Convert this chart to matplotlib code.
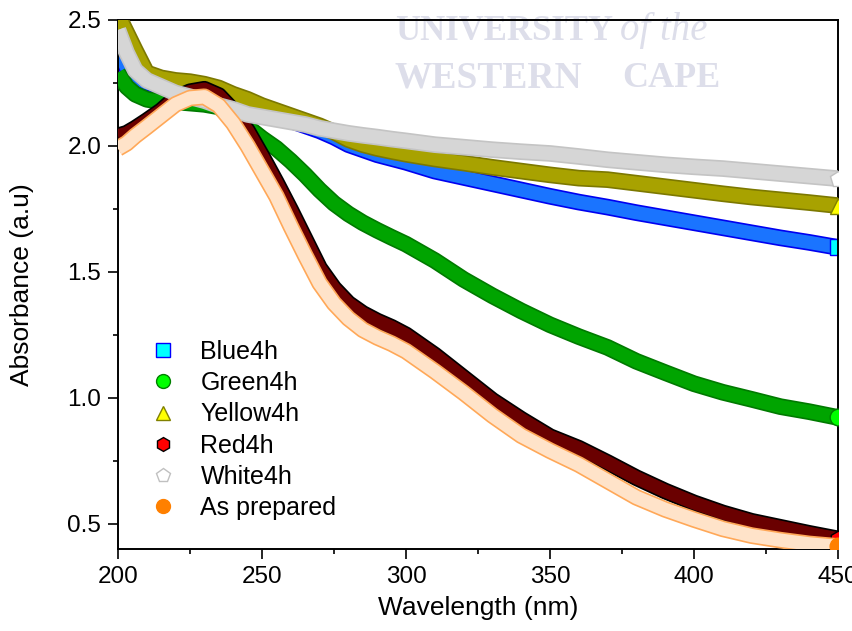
import numpy as np
import matplotlib
matplotlib.use("Agg")
import matplotlib.pyplot as plt
import matplotlib.patheffects as pe
from matplotlib.lines import Line2D

plt.rcParams['font.family'] = ['Liberation Sans', 'DejaVu Sans']

wavelength = [200, 203, 206, 210, 215, 220, 225, 230, 235, 240, 245, 250, 255, 260,
              265, 270, 275, 280, 285, 290, 295, 300, 310, 320, 330, 340, 350, 360, 370, 380,
              390, 400, 410, 420, 430, 440, 450]

blue4h = [2.38, 2.31, 2.27, 2.25, 2.24, 2.235, 2.23, 2.22, 2.20, 2.185, 2.165, 2.14, 2.12, 2.10,
          2.08, 2.06, 2.035, 2.005, 1.985, 1.965, 1.95, 1.935, 1.90, 1.875, 1.85, 1.825, 1.80, 1.777,
          1.757, 1.735, 1.715, 1.695, 1.675, 1.655, 1.635, 1.617, 1.597]
green4h = [2.29, 2.235, 2.205, 2.185, 2.175, 2.175, 2.17, 2.165, 2.155, 2.11, 2.075, 2.03, 1.99, 1.94,
           1.885, 1.825, 1.772, 1.73, 1.695, 1.665, 1.637, 1.61, 1.545, 1.47, 1.405, 1.345, 1.29, 1.243,
           1.20, 1.145, 1.10, 1.056, 1.022, 0.994, 0.965, 0.945, 0.922]
yellow4h = [2.52, 2.45, 2.38, 2.29, 2.27, 2.26, 2.255, 2.245, 2.23, 2.205, 2.185, 2.16, 2.14, 2.12,
            2.10, 2.08, 2.055, 2.025, 2.005, 1.99, 1.978, 1.967, 1.948, 1.932, 1.915, 1.90, 1.885, 1.872,
            1.866, 1.852, 1.838, 1.824, 1.81, 1.797, 1.786, 1.775, 1.763]
red4h = [2.04, 2.05, 2.07, 2.10, 2.14, 2.19, 2.215, 2.225, 2.20, 2.14, 2.06, 1.96, 1.855, 1.745,
         1.63, 1.515, 1.435, 1.375, 1.335, 1.305, 1.28, 1.25, 1.17, 1.08, 0.99, 0.915, 0.846, 0.80,
         0.743, 0.683, 0.63, 0.583, 0.543, 0.51, 0.486, 0.462, 0.44]
white4h = [2.46, 2.37, 2.30, 2.26, 2.235, 2.21, 2.195, 2.18, 2.16, 2.145, 2.125, 2.115, 2.105, 2.095,
           2.085, 2.07, 2.06, 2.05, 2.042, 2.035, 2.027, 2.02, 2.005, 1.995, 1.985, 1.977, 1.97, 1.958,
           1.945, 1.935, 1.925, 1.917, 1.91, 1.90, 1.89, 1.88, 1.87]
as_prepared = [1.99, 2.01, 2.04, 2.075, 2.12, 2.165, 2.19, 2.195, 2.16, 2.09, 2.00, 1.90, 1.80, 1.68,
               1.565, 1.455, 1.375, 1.315, 1.27, 1.24, 1.215, 1.185, 1.105, 1.02, 0.93, 0.85, 0.79, 0.735,
               0.67, 0.605, 0.557, 0.517, 0.48, 0.453, 0.435, 0.42, 0.41]

labels = ['Blue4h', 'Green4h', 'Yellow4h', 'Red4h', 'White4h', 'As prepared']
series = [blue4h, green4h, yellow4h, red4h, white4h, as_prepared]
markers = ['s', 'o', '^', 'h', 'p', 'o']
faces = ['#00FFFF', '#00FF00', '#FFFF00', '#FF0000', '#FFFFFF', '#FF8000']
edges = ['#0000FF', '#008000', '#808000', '#000000', '#C0C0C0', '#FF8000']
band_in = ['#1A74FF', '#00A400', '#A8A200', '#6A0000', '#D6D6D6', '#FFE3C9']
band_out = ['#0000F0', '#007A00', '#7C7800', '#000000', '#C4C4C4', '#FFA858']

fig = plt.figure(figsize=(8.53, 6.31), dpi=100)
ax = fig.add_axes([0.1383, 0.13, 0.8441, 0.8384])
ax.patch.set_alpha(0)

# watermark
wm = '#DDDEEA'
fig.text(0.463, 1 - 40 / 631, 'UNIVERSITY', fontsize=25, fontweight='bold',
         family='Liberation Serif', color=wm, zorder=-5)
fig.text(0.727, 1 - 40 / 631, 'of the', fontsize=28, style='italic',
         family='Liberation Serif', color=wm, zorder=-5)
fig.text(0.463, 1 - 87 / 631, 'WESTERN', fontsize=27, fontweight='bold',
         family='Liberation Serif', color=wm, zorder=-5)
fig.text(0.729, 1 - 87 / 631, 'CAPE', fontsize=26, fontweight='bold',
         family='Liberation Serif', color=wm, zorder=-5)

lw = 12
for i, y in enumerate(series):
    ax.plot(wavelength, y, color=band_in[i], lw=lw - 2.4, solid_joinstyle='round',
            solid_capstyle='butt', zorder=2 + i,
            path_effects=[pe.Stroke(linewidth=lw, foreground=band_out[i]), pe.Normal()])
    ax.plot(wavelength[-1:], y[-1:], ls='none', marker=markers[i], ms=12,
            mfc=faces[i], mec=edges[i], zorder=2 + i)

ax.set_xlim(200, 450)
ax.set_ylim(0.40, 2.5)
ax.set_xticks([200, 250, 300, 350, 400, 450])
ax.set_xticks([225, 275, 325, 375, 425], minor=True)
ax.set_yticks([0.5, 1.0, 1.5, 2.0, 2.5])
ax.set_yticks([0.75, 1.25, 1.75, 2.25], minor=True)
ax.tick_params(which='major', direction='out', length=7, width=1.2, labelsize=17.5, pad=5)
ax.tick_params(which='minor', direction='out', length=3.5, width=1.2)
for s in ax.spines.values():
    s.set_linewidth(1.4)

ax.set_xlabel('Wavelength (nm)', fontsize=19, labelpad=6)
ax.set_ylabel('Absorbance (a.u)', fontsize=19, labelpad=24)

handles = [Line2D([], [], ls='none', marker=markers[i], ms=10, mfc=faces[i], mec=edges[i])
           for i in range(len(labels))]
ax.legend(handles, labels, loc='upper left', bbox_to_anchor=(0.0284, 0.419), frameon=False,
          fontsize=18, borderpad=0, handlelength=1.0, handletextpad=0.98, labelspacing=0.29)

fig.savefig('out.png', dpi=100)
